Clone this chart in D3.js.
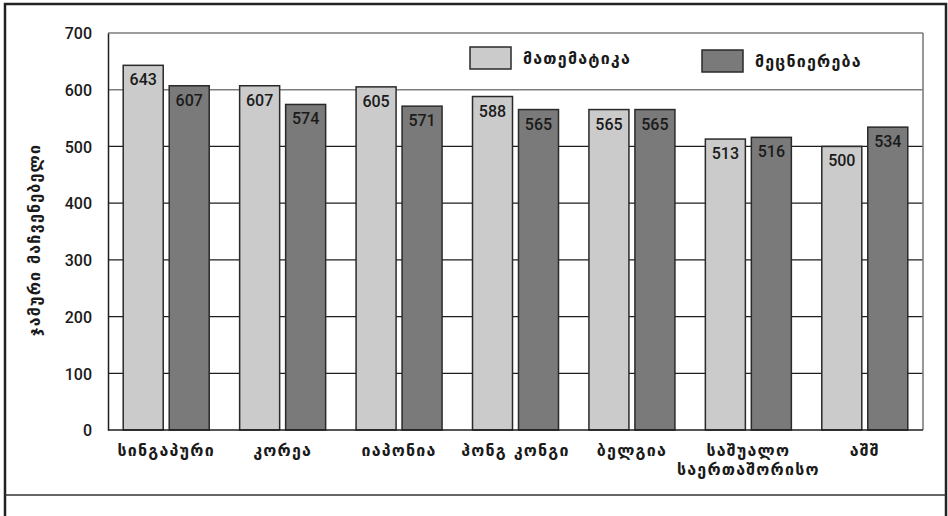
<!DOCTYPE html>
<html><head><meta charset="utf-8">
<script src="https://cdn.jsdelivr.net/npm/d3@7"></script>
<style>
html,body{margin:0;padding:0;background:#fff;}
svg{display:block;}
.num{font-family:Roboto,"DejaVu Sans Condensed",sans-serif;font-weight:500;font-size:16px;fill:#1a1a1a;}
.geo{font-family:"DejaVu Sans",sans-serif;font-weight:bold;font-size:16px;letter-spacing:1.2px;fill:#1a1a1a;}
</style></head>
<body>
<svg id="c" width="948" height="516"></svg>
<script>
const categories = [["სინგაპური"],["კორეა"],["იაპონია"],["ჰონგ კონგი"],["ბელგია"],["საშუალო","საერთაშორისო"],["აშშ"]];
const seriesNames = ["მათემატიკა","მეცნიერება"];
const mathValues = [643,607,605,588,565,513,500];
const scienceValues = [607,574,571,565,565,516,534];
const yTicks = [0,100,200,300,400,500,600,700];
const yTitle = "ჯამური მაჩვენებელი";
const colors = ["#cbcbcb","#7a7a7a"];

const svg = d3.select("#c");
const L=108, R=923, T=33, B=430;

// outer frame
svg.append("rect").attr("x",5).attr("y",4).attr("width",941).attr("height",530)
  .attr("fill","none").attr("stroke","#222").attr("stroke-width",2.5);
svg.append("line").attr("x1",5).attr("x2",946).attr("y1",495).attr("y2",495)
  .attr("stroke","#333").attr("stroke-width",1.5);

const y = d3.scaleLinear().domain([0,700]).range([B,T]);
const x0 = d3.scaleBand().domain(d3.range(categories.length)).range([L,R]).paddingInner(0).paddingOuter(0);
const x1 = d3.scaleBand().domain([0,1]).range([0,86]).paddingInner(0.13);

// gridlines
const grid = svg.append("g");
grid.selectAll("line").data(yTicks.filter(d=>d>0)).join("line")
  .attr("x1",L).attr("x2",R).attr("y1",d=>y(d)).attr("y2",d=>y(d))
  .attr("stroke",d=>d>=600?"#7d7d7d":"#1e1e1e").attr("stroke-width",d=>d>=600?1.6:1.2);
// right border
svg.append("line").attr("x1",R).attr("x2",R).attr("y1",T).attr("y2",B).attr("stroke","#7d7d7d").attr("stroke-width",1.6);

// y axis
const yAxis = d3.axisLeft(y).tickValues(yTicks).tickSize(0).tickPadding(16);
const ga = svg.append("g").attr("transform",`translate(${L},0)`).call(yAxis);
ga.select(".domain").attr("stroke","#1e1e1e").attr("stroke-width",1.5);
ga.selectAll("text").attr("class","num").attr("font-size",null).attr("font-family",null).attr("fill",null).attr("dy","0.36em");

// bars
const groups = svg.append("g").selectAll("g").data(categories).join("g")
  .attr("transform",(d,i)=>`translate(${x0(i)+x0.bandwidth()/2-43},0)`);
const barData = (i)=>[mathValues[i],scienceValues[i]];
groups.each(function(d,i){
  const g=d3.select(this);
  const vals=barData(i);
  g.selectAll("rect").data(vals).join("rect")
    .attr("x",(v,j)=>x1(j)).attr("width",x1.bandwidth())
    .attr("y",v=>y(v)).attr("height",v=>B-y(v))
    .attr("fill",(v,j)=>colors[j]).attr("stroke","#2a2a2a").attr("stroke-width",1.5);
  g.selectAll("text").data(vals).join("text").attr("class","num")
    .attr("x",(v,j)=>x1(j)+x1.bandwidth()/2).attr("y",v=>y(v)+20)
    .attr("text-anchor","middle").text(v=>v);
});

// baseline
svg.append("line").attr("x1",L).attr("x2",R).attr("y1",B).attr("y2",B).attr("stroke","#1e1e1e").attr("stroke-width",1.5);

// x labels
const xl = svg.append("g").selectAll("text").data(categories).join("text").attr("class","geo")
  .attr("text-anchor","middle")
  .attr("x",(d,i)=>x0(i)+x0.bandwidth()/2).attr("y",456);
xl.each(function(d){
  d3.select(this).selectAll("tspan").data(d).join("tspan")
    .attr("x",d3.select(this).attr("x")).attr("dy",(t,k)=>k===0?0:19).text(t=>t);
});

// y title
svg.append("text").attr("class","geo").attr("text-anchor","middle")
  .attr("transform","translate(40,240) rotate(-90)").text(yTitle);

// legend
const legX=[470,702], legY=[47,50];
const leg = svg.append("g").selectAll("g").data(seriesNames).join("g")
  .attr("transform",(d,i)=>`translate(${legX[i]},${legY[i]})`);
leg.append("rect").attr("width",41).attr("height",22).attr("fill",(d,i)=>colors[i]).attr("stroke","#2a2a2a").attr("stroke-width",1.5);
leg.append("text").attr("class","geo").attr("x",53).attr("y",17).text(d=>d);
</script>
</body></html>
